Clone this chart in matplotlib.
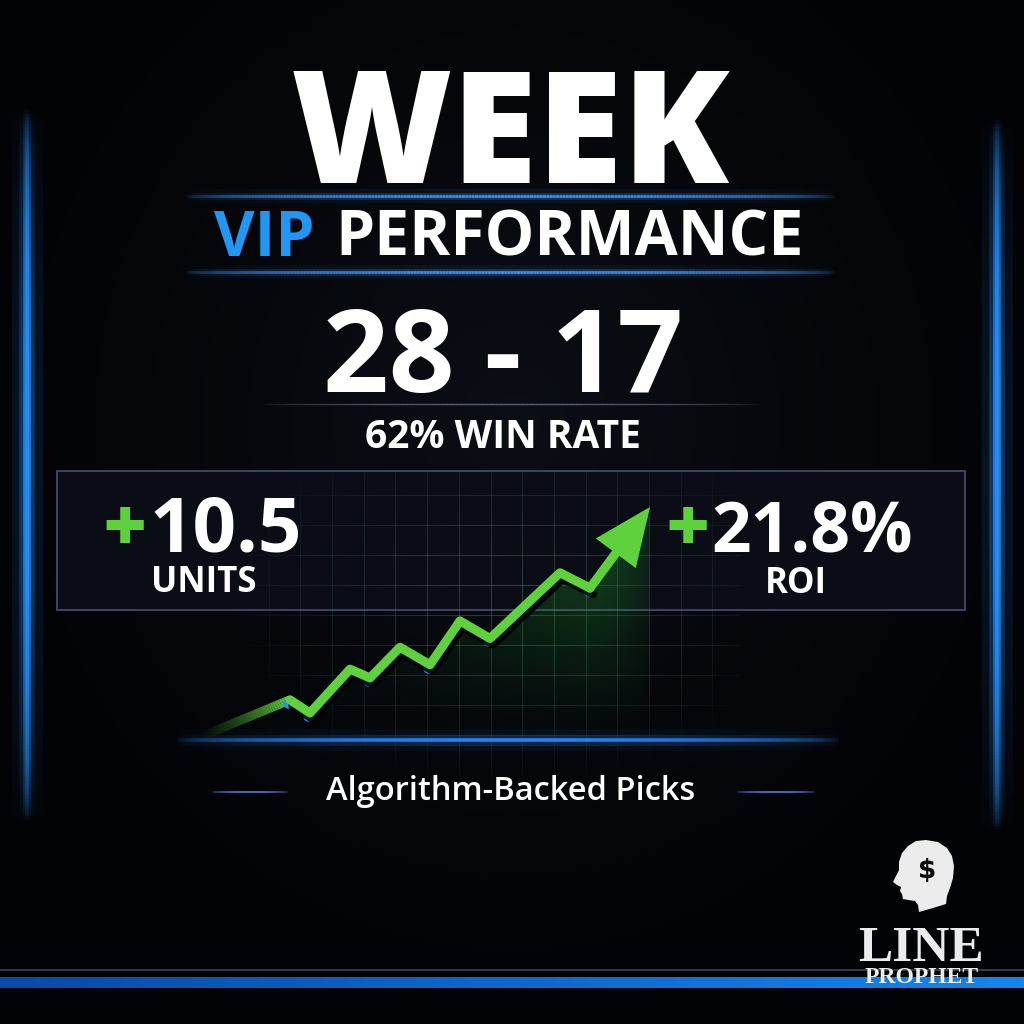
import numpy as np
import matplotlib.pyplot as plt
from matplotlib.collections import LineCollection
from matplotlib.patches import Rectangle, Polygon
from matplotlib.colors import to_rgba
import matplotlib.patheffects as pe
import matplotlib.transforms as mtransforms

# ---- numbers on the card ----
pick_no = [0, 9, 11, 15, 17, 20, 23, 26, 29, 36, 39, 45]
units = [0.0, 1.7, 1.1, 3.1, 2.7, 4.1, 3.3, 5.3, 4.5, 7.5, 6.8, 10.5]
record = ("28", "17")
win_rate = "62%"
units_won = "10.5"
roi = "21.8%"

title = "WEEK"
sub_blue = "VIP"
sub_white = "PERFORMANCE"
footer = "Algorithm-Backed Picks"

WHITE = "#ffffff"
BLUE = "#2196f3"
GREEN = "#5fd13c"
FONT = "Open Sans"

fig = plt.figure(figsize=(10.24, 10.24), dpi=100, facecolor="#040508")
bg = fig.add_axes([0, 0, 1, 1])
bg.set_xlim(0, 1024)
bg.set_ylim(1024, 0)
bg.axis("off")

# background: dark with a faint lighter middle
yy, xx = np.mgrid[0:1024:4, 0:1024:4]
d = np.sqrt(((xx - 512) / 600.0) ** 2 + ((yy - 420) / 650.0) ** 2)
k = np.clip(1 - d, 0, 1) ** 1.5
img = np.zeros(xx.shape + (3,))
c0 = np.array([2, 3, 6]) / 255.0
c1 = np.array([11, 15, 22]) / 255.0
for i in range(3):
    img[..., i] = c0[i] + (c1[i] - c0[i]) * k
bg.imshow(img, extent=(0, 1024, 1024, 0), zorder=0, aspect="auto")


def glow_line(ax, x0, x1, y0, y1, color, lw, alpha=1.0, power=1.0,
              layers=((5, 0.06), (2.5, 0.18), (1, 1.0)), z=2):
    n = 200
    t = np.linspace(0, 1, n + 1)
    xs = x0 + (x1 - x0) * t
    ys = y0 + (y1 - y0) * t
    segs = np.stack([np.column_stack([xs[:-1], ys[:-1]]),
                     np.column_stack([xs[1:], ys[1:]])], axis=1)
    tm = (t[:-1] + t[1:]) / 2
    a = np.sin(np.pi * tm) ** power * alpha
    base = np.array(to_rgba(color))
    for mult, am in layers:
        cols = np.tile(base, (n, 1))
        cols[:, 3] = np.clip(a * am, 0, 1)
        ax.add_collection(LineCollection(segs, colors=cols, linewidths=lw * mult,
                                         capstyle="butt", zorder=z))


# side glow bars
side_layers = ((8, 0.12), (4, 0.3), (2, 0.8), (1, 1.0))
glow_line(bg, 27, 27, 110, 820, "#258cf5", 2.8, power=0.7, layers=side_layers)
glow_line(bg, 997, 997, 120, 830, "#258cf5", 2.8, power=0.7, layers=side_layers)

# header rules
glow_line(bg, 186, 834, 196, 196, "#3b8cf0", 2.0, power=0.5,
          layers=((5, 0.08), (2.5, 0.25), (1, 1.0)))
glow_line(bg, 186, 834, 272, 272, "#3b8cf0", 2.0, power=0.5,
          layers=((5, 0.08), (2.5, 0.25), (1, 1.0)))
glow_line(bg, 260, 760, 404, 404, "#7f8ba3", 1.0, alpha=0.7, power=0.6,
          layers=((1, 1.0),))

# header text
bg.text(510, 183, title, ha="center", va="baseline", color=WHITE,
        fontsize=112, fontweight="heavy", family=FONT, zorder=5)
bg.text(214, 256, sub_blue, ha="left", va="baseline", color=BLUE,
        fontsize=45, fontweight="bold", family=FONT, zorder=5)
bg.text(804, 256, sub_white, ha="right", va="baseline", color=WHITE,
        fontsize=45, fontweight="bold", family=FONT, zorder=5)
bg.text(503, 392, f"{record[0]} - {record[1]}", ha="center", va="baseline",
        color=WHITE, fontsize=83, fontweight="bold", family=FONT, zorder=5)
bg.text(503, 448, f"{win_rate} WIN RATE", ha="center", va="baseline",
        color=WHITE, fontsize=28, fontweight="bold", family=FONT, zorder=5)

# stats panel
bg.add_patch(Rectangle((57, 471), 908, 139, facecolor="#0a0d15",
                       edgecolor="#3f4c68", lw=1.3, zorder=1))

# faint grid behind the chart
grid_col = np.array(to_rgba("#4a6e5e"))


def grid_alpha(px, py):
    dd = np.sqrt(((px - 510) / 280.0) ** 2 + ((py - 600) / 190.0) ** 2)
    return 0.55 * np.clip(1 - dd, 0, 1) ** 0.8


for gx in np.arange(237, 720, 31.7):
    ys = np.linspace(471, 800, 80)
    segs = [[(gx, ys[i]), (gx, ys[i + 1])] for i in range(len(ys) - 1)]
    cols = np.tile(grid_col, (len(segs), 1))
    cols[:, 3] = grid_alpha(gx, (ys[:-1] + ys[1:]) / 2)
    bg.add_collection(LineCollection(segs, colors=cols, linewidths=0.8, zorder=1.5))
for gy in np.arange(495, 740, 30):
    xs = np.linspace(220, 740, 120)
    segs = [[(xs[i], gy), (xs[i + 1], gy)] for i in range(len(xs) - 1)]
    cols = np.tile(grid_col, (len(segs), 1))
    cols[:, 3] = grid_alpha((xs[:-1] + xs[1:]) / 2, gy)
    bg.add_collection(LineCollection(segs, colors=cols, linewidths=0.8, zorder=1.5))

# panel numbers
bg.text(125, 551, "+", ha="center", va="baseline", color=GREEN,
        fontsize=54, fontweight="heavy", family=FONT, zorder=5)
bg.text(150, 551, units_won, ha="left", va="baseline", color=WHITE,
        fontsize=55, fontweight="bold", family=FONT, zorder=5)
bg.text(204, 592, "UNITS", ha="center", va="baseline", color=WHITE,
        fontsize=25, fontweight="bold", family=FONT, zorder=5)
bg.text(688, 551, "+", ha="center", va="baseline", color=GREEN,
        fontsize=54, fontweight="heavy", family=FONT, zorder=5)
bg.text(711, 551, roi, ha="left", va="baseline", color=WHITE,
        fontsize=50, fontweight="bold", family=FONT, zorder=5)
bg.text(796, 593, "ROI", ha="center", va="baseline", color=WHITE,
        fontsize=25, fontweight="bold", family=FONT, zorder=5)

# lower rules and footer
glow_line(bg, 178, 838, 740, 740, "#2a82f0", 2.6, power=0.5,
          layers=((6, 0.07), (3, 0.2), (1, 1.0)), z=6)
glow_line(bg, 212, 288, 792, 792, "#3d6fc0", 1.4, power=0.4, layers=((1, 1.0),))
glow_line(bg, 737, 815, 792, 792, "#3d6fc0", 1.4, power=0.4, layers=((1, 1.0),))
bg.text(511, 800, footer, ha="center", va="baseline", color=WHITE,
        fontsize=23.5, fontweight="semibold", family=FONT, zorder=5)

# bottom band
bg.plot([0, 1024], [970, 970], color="#3a4658", lw=1.2, zorder=3)
band = np.linspace(0, 1, 256)[None, :, None] * (np.array([21, 133, 238]) - np.array([10, 74, 168])) / 255.0 \
    + np.array([10, 74, 168])[None, None, :] / 255.0
bg.imshow(band, extent=(0, 1024, 988, 977), aspect="auto", zorder=3)

# logo: head with dollar sign
head = [(926, 840), (938, 842), (947, 848), (952, 856), (954, 866), (953, 878),
        (950, 888), (947, 896), (946, 904), (933, 908), (919, 912), (918, 905),
        (915, 901), (908, 900), (903, 899), (902, 894), (900, 891), (901, 887),
        (897, 885), (893, 882), (896, 876), (899, 870), (899, 862), (902, 853),
        (908, 846), (916, 841)]
bg.add_patch(Polygon(head, closed=True, facecolor="#ececec", edgecolor="none", zorder=5))
bg.text(927, 878, "$", ha="center", va="baseline", color="#0b0b0b",
        fontsize=19, fontweight="bold", family="DejaVu Sans", zorder=6)
bg.text(921, 961, "LINE", ha="center", va="baseline", color="#ececec",
        fontsize=37, fontweight="bold", family="Liberation Serif", zorder=6)
bg.text(922, 983, "PROPHET", ha="center", va="baseline", color="#ececec",
        fontsize=17, fontweight="bold", family="Liberation Serif", zorder=6)

# ---- the units line chart ----
ax = fig.add_axes([190 / 1024, 1 - 750 / 1024, 480 / 1024, 280 / 1024])
ax.set_xlim(-1, 47)
ax.set_ylim(-0.59, 12.19)
ax.axis("off")
ax.patch.set_alpha(0)

x = np.array(pick_no, dtype=float)
y = np.array(units)
y_floor = -0.15

# green glow under the line
poly = Polygon(list(zip(x, y)) + [(x[-1], y_floor), (x[0], y_floor)], closed=True,
               facecolor="none", edgecolor="none")
ax.add_patch(poly)
gy_, gx_ = np.mgrid[0:1:200j, 0:1:200j]
grad = np.zeros((200, 200, 4))
grad[..., 0] = 0.12
grad[..., 1] = 0.62
grad[..., 2] = 0.16
right_fade = np.clip((1 - gx_) / 0.12, 0, 1) ** 0.7
grad[..., 3] = 0.5 * (1 - gy_) ** 1.2 * np.clip(gx_ * 1.1, 0, 1) ** 1.3 * (0.35 + 0.65 * right_fade)
fill = ax.imshow(grad, extent=(x[0], x[-1], y_floor, y.max()), origin="upper",
                 aspect="auto", zorder=2)
fill.set_clip_path(poly)

shadow = [pe.SimpleLineShadow(offset=(2, -4), shadow_color="black", alpha=0.85), pe.Normal()]

# faded lead-in segment
t = np.linspace(0, 1, 40)
lx = x[0] + (x[1] - x[0]) * t
ly = y[0] + (y[1] - y[0]) * t
segs = [[(lx[i], ly[i]), (lx[i + 1], ly[i + 1])] for i in range(len(t) - 1)]
cols = np.tile(np.array(to_rgba(GREEN)), (len(segs), 1))
cols[:, 3] = ((t[:-1] + t[1:]) / 2) ** 1.3
ax.add_collection(LineCollection(segs, colors=cols, linewidths=6.5, capstyle="butt", zorder=4))

# blue vertex dots peeking out from behind
dots = mtransforms.offset_copy(ax.transData, fig=fig, x=-2, y=-3, units="dots")
ax.plot(x[1:-1], y[1:-1], "o", color="#2b8fe8", ms=7.5, mec="none",
        transform=dots, zorder=4.5)
ax.plot(x[1:-1], y[1:-1], color=GREEN, lw=6.5, solid_capstyle="round",
        solid_joinstyle="round", path_effects=shadow, zorder=5)
ax.annotate("", xy=(x[-1], y[-1]), xytext=(x[-2], y[-2]),
            arrowprops=dict(arrowstyle="-|>,head_length=1.5,head_width=0.65",
                            color=GREEN, lw=6.5, mutation_scale=20,
                            shrinkA=0, shrinkB=0, joinstyle="miter"),
            zorder=5)

fig.savefig("out.png", dpi=100, facecolor=fig.get_facecolor())
